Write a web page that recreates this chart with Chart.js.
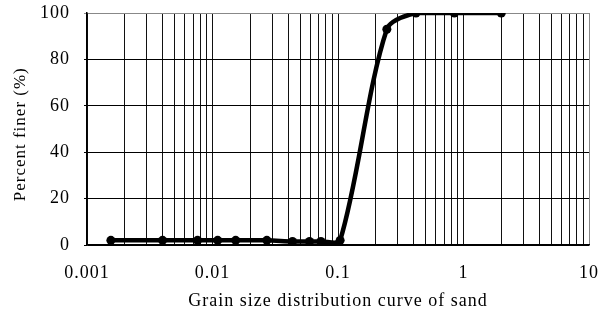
<!DOCTYPE html>
<html>
<head>
<meta charset="utf-8">
<script src="https://cdn.jsdelivr.net/npm/chart.js@4"></script>
<style>
  html, body { margin: 0; padding: 0; background: #fff; }
  #wrap { width: 599px; height: 320px; }
</style>
</head>
<body>
<div id="wrap"><canvas id="gsdChart" width="599" height="320"></canvas></div>
<script>
// grain size (mm) and percent finer
const grainSize = [0.00155, 0.004, 0.0076, 0.011, 0.0153, 0.0271, 0.0434, 0.0593, 0.0731, 0.104, 0.245, 0.418, 0.845, 2.0];
const percentFiner = [2, 2, 2, 2, 2, 2, 1.5, 1.5, 1.5, 2, 93, 100, 100, 100];
const xTickLabels = ['0.001', '0.01', '0.1', '1', '10'];
const yTickValues = [0, 20, 40, 60, 80, 100];

const FONT = "'Liberation Serif', 'Times New Roman', serif";

// the original text is set a bit loose, so widen letters on the canvas
const letterSpacingPlugin = {
  id: 'letterSpacing',
  beforeLayout(chart) { chart.ctx.letterSpacing = '1px'; },
  beforeDraw(chart) { chart.ctx.letterSpacing = '1px'; }
};

function renderChart() {
  const ctx = document.getElementById('gsdChart').getContext('2d');
  const points = grainSize.map((d, i) => ({ x: d, y: percentFiner[i] }));

  // grid at every 1..9 multiple of each decade
  const decades = xTickLabels.map(Number);
  const gridTicks = [];
  decades.forEach((d, i) => {
    if (i === decades.length - 1) { gridTicks.push(d); return; }
    for (let m = 1; m <= 9; m++) gridTicks.push(+(d * m).toPrecision(6));
  });

  new Chart(ctx, {
    type: 'line',
    data: {
      datasets: [{
        data: points,
        borderColor: '#000',
        backgroundColor: '#000',
        borderWidth: 4.5,
        pointRadius: 4.5,
        pointBackgroundColor: '#000',
        pointBorderWidth: 0,
        tension: 0.3,
        fill: false
      }]
    },
    plugins: [letterSpacingPlugin],
    options: {
      responsive: false,
      animation: false,
      layout: { padding: { top: 13, right: 10, left: 0, bottom: 0 } },
      plugins: { legend: { display: false }, tooltip: { enabled: false } },
      scales: {
        x: {
          type: 'logarithmic',
          min: 0.001,
          max: 10,
          afterBuildTicks: scale => { scale.ticks = gridTicks.map(v => ({ value: v })); },
          afterFit: scale => {
            scale.height = 75;
            scale.paddingLeft = 0;
            scale.paddingRight = 0;
          },
          ticks: {
            autoSkip: false,
            maxRotation: 0,
            padding: 17,
            color: '#000',
            font: { family: FONT, size: 18 },
            callback: value => {
              const idx = decades.findIndex(d => Math.abs(d - value) < d * 1e-6);
              return idx >= 0 ? xTickLabels[idx] : '';
            }
          },
          grid: {
            drawTicks: false,
            lineWidth: 1,
            color: c => (c.tick && c.tick.value === 10 ? '#888' : '#111')
          },
          border: { display: true, color: '#000', width: 1.5 },
          title: {
            display: true,
            text: 'Grain size distribution curve of sand',
            color: '#000',
            font: { family: FONT, size: 18 },
            padding: { top: 0, bottom: 8 }
          }
        },
        y: {
          min: 0,
          max: 100,
          afterBuildTicks: scale => { scale.ticks = yTickValues.map(v => ({ value: v })); },
          afterFit: scale => {
            scale.width = 87;
            scale.paddingTop = 0;
            scale.paddingBottom = 0;
          },
          ticks: {
            padding: 14,
            color: '#000',
            font: { family: FONT, size: 18 }
          },
          grid: {
            tickLength: 3,
            lineWidth: 1,
            color: c => (c.tick && c.tick.value === 100 ? '#888' : '#000')
          },
          border: { display: true, color: '#000', width: 1.5 },
          title: {
            display: true,
            text: 'Percent finer (%)  ',
            color: '#000',
            font: { family: FONT, size: 17 },
            padding: { top: 10, bottom: 0 }
          }
        }
      }
    }
  });
}

window.onload = () => {
  renderChart();
};
</script>
</body>
</html>
